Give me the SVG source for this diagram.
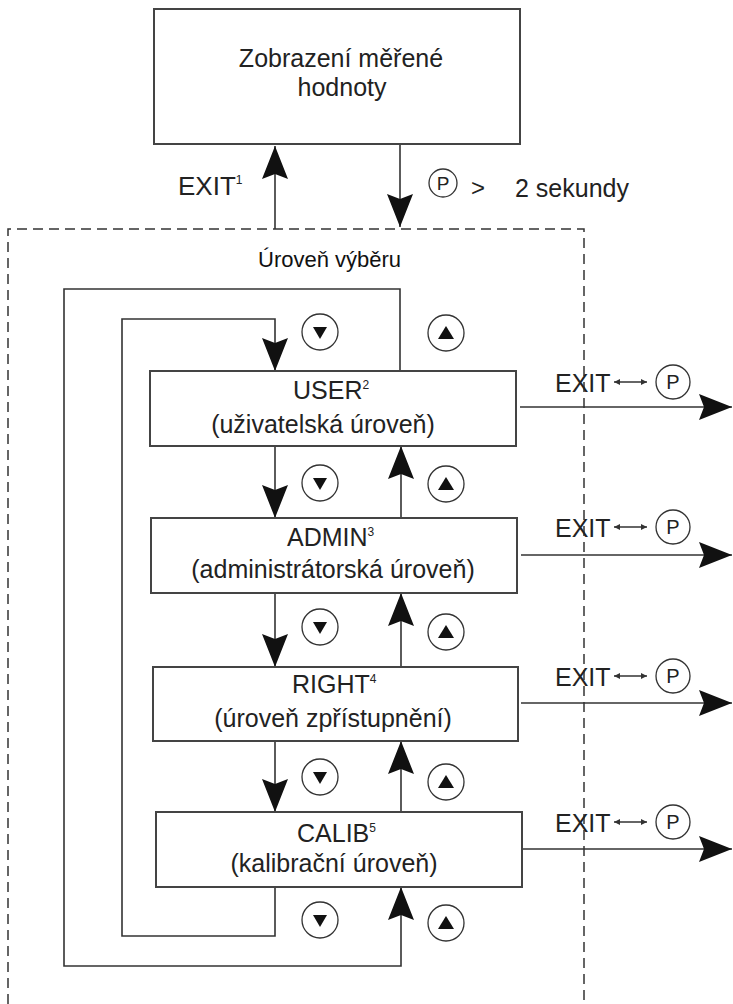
<svg xmlns="http://www.w3.org/2000/svg" width="733" height="1004" viewBox="0 0 733 1004">
<style>
  .box { fill: #fff; stroke: #444; stroke-width: 2; }
  .t { font-family: "Liberation Sans", Arial, sans-serif; font-size: 25px; fill: #222; }
  .c { text-anchor: middle; }
  .ln { fill: none; stroke: #333; stroke-width: 1.6; }
  .arr { marker-end: url(#big); }
  .dash { fill: none; stroke: #333; stroke-width: 1.5; stroke-dasharray: 10 6; }
  .key { fill: #fff; stroke: #333; stroke-width: 1.3; }
  .tri { fill: #111; }
  .dbl { stroke: #333; stroke-width: 1.3; marker-start: url(#sm); marker-end: url(#sm); }
</style>
<defs>
  <marker id="big" markerUnits="userSpaceOnUse" viewBox="-34 -14 35 28" refX="0" refY="0" markerWidth="35" markerHeight="28" orient="auto">
    <path d="M0,0 L-33,-13 L-28,0 L-33,13 Z" fill="#111"/>
  </marker>
  <marker id="sm" markerUnits="userSpaceOnUse" viewBox="-7 -4 8 8" refX="0" refY="0" markerWidth="8" markerHeight="8" orient="auto-start-reverse">
    <path d="M0,0 L-6,-3 L-6,3 Z" fill="#333"/>
  </marker>
  <g id="kdown">
    <circle r="18" class="key"/>
    <path d="M-7,-5 L7,-5 L0,7 Z" class="tri"/>
  </g>
  <g id="kup">
    <circle r="18" class="key"/>
    <path d="M-8,6 L8,6 L0,-7 Z" class="tri"/>
  </g>
</defs>

<!-- dashed selection area -->
<g id="selection-area">
  <path d="M8,1004 L8,229 L584,229 L584,1004" class="dash"/>
  <text x="258" y="267" class="t" style="font-size:22px;fill:#111">Úroveň výběru</text>
</g>

<!-- connectors -->
<g id="connectors">
  <line x1="275" y1="229" x2="275" y2="146" class="ln arr"/>
  <line x1="400" y1="144" x2="400" y2="227" class="ln arr"/>
  <line x1="275" y1="446" x2="275" y2="518" class="ln arr"/>
  <line x1="401" y1="518" x2="401" y2="446" class="ln arr"/>
  <line x1="275" y1="593" x2="275" y2="667" class="ln arr"/>
  <line x1="401" y1="667" x2="401" y2="593" class="ln arr"/>
  <line x1="275" y1="741" x2="275" y2="812" class="ln arr"/>
  <line x1="401" y1="812" x2="401" y2="741" class="ln arr"/>
  <path d="M275,887 L275,936 L122,936 L122,319 L275,319 L275,371" class="ln arr"/>
  <path d="M400,371 L400,289 L64,289 L64,966 L401,966 L401,887" class="ln arr"/>
  <line x1="520" y1="407" x2="732" y2="407" class="ln arr"/>
  <line x1="521" y1="555" x2="732" y2="555" class="ln arr"/>
  <line x1="521" y1="703" x2="732" y2="703" class="ln arr"/>
  <line x1="522" y1="849" x2="732" y2="849" class="ln arr"/>
</g>

<g id="display">
  <rect x="154" y="9" width="366" height="135" class="box"/>
  <text x="341" y="67" class="t c">Zobrazení měřené</text>
  <text x="342" y="96" class="t c">hodnoty</text>
</g>

<g id="top-labels">
  <text x="178" y="195" class="t" style="font-size:26px">EXIT<tspan dy="-11" style="font-size:12px">1</tspan></text>
  <circle cx="443" cy="183" r="14" class="key"/>
  <text x="443" y="190" class="t c" style="font-size:19px">P</text>
  <text x="471" y="196" class="t" style="font-size:24px">&gt;</text>
  <text x="515" y="197" class="t">2 sekundy</text>
</g>

<g id="user">
  <rect x="150" y="371" width="366" height="75" class="box"/>
  <text x="293" y="399" class="t">USER<tspan dy="-10" style="font-size:12px">2</tspan></text>
  <text x="323" y="433" class="t c">(uživatelská úroveň)</text>
</g>

<g id="admin">
  <rect x="151" y="518" width="366" height="75" class="box"/>
  <text x="287" y="546" class="t">ADMIN<tspan dy="-10" style="font-size:12px">3</tspan></text>
  <text x="333" y="578" class="t c">(administrátorská úroveň)</text>
</g>

<g id="right">
  <rect x="153" y="667" width="365" height="74" class="box"/>
  <text x="292" y="693" class="t">RIGHT<tspan dy="-10" style="font-size:12px">4</tspan></text>
  <text x="333" y="727" class="t c">(úroveň zpřístupnění)</text>
</g>

<g id="calib">
  <rect x="156" y="812" width="366" height="75" class="box"/>
  <text x="297" y="842" class="t">CALIB<tspan dy="-10" style="font-size:12px">5</tspan></text>
  <text x="334" y="872" class="t c">(kalibrační úroveň)</text>
</g>

<g id="keys">
  <use href="#kdown" x="320" y="332"/>
  <use href="#kup" x="446" y="333"/>
  <use href="#kdown" x="320" y="483"/>
  <use href="#kup" x="446" y="484"/>
  <use href="#kdown" x="320" y="627"/>
  <use href="#kup" x="446" y="632"/>
  <use href="#kdown" x="320" y="777"/>
  <use href="#kup" x="446" y="782"/>
  <use href="#kdown" x="320" y="920"/>
  <use href="#kup" x="446" y="923"/>
</g>

<g id="exit-labels">
  <text x="555" y="392" class="t">EXIT</text>
  <line x1="614" y1="382" x2="647" y2="382" class="dbl"/>
  <circle cx="673" cy="382" r="17" class="key"/>
  <text x="673" y="389" class="t c" style="font-size:20px">P</text>

  <text x="555" y="537" class="t">EXIT</text>
  <line x1="614" y1="527" x2="647" y2="527" class="dbl"/>
  <circle cx="673" cy="527" r="17" class="key"/>
  <text x="673" y="534" class="t c" style="font-size:20px">P</text>

  <text x="555" y="686" class="t">EXIT</text>
  <line x1="614" y1="676" x2="647" y2="676" class="dbl"/>
  <circle cx="673" cy="676" r="17" class="key"/>
  <text x="673" y="683" class="t c" style="font-size:20px">P</text>

  <text x="555" y="832" class="t">EXIT</text>
  <line x1="614" y1="822" x2="647" y2="822" class="dbl"/>
  <circle cx="673" cy="822" r="17" class="key"/>
  <text x="673" y="829" class="t c" style="font-size:20px">P</text>
</g>
</svg>
